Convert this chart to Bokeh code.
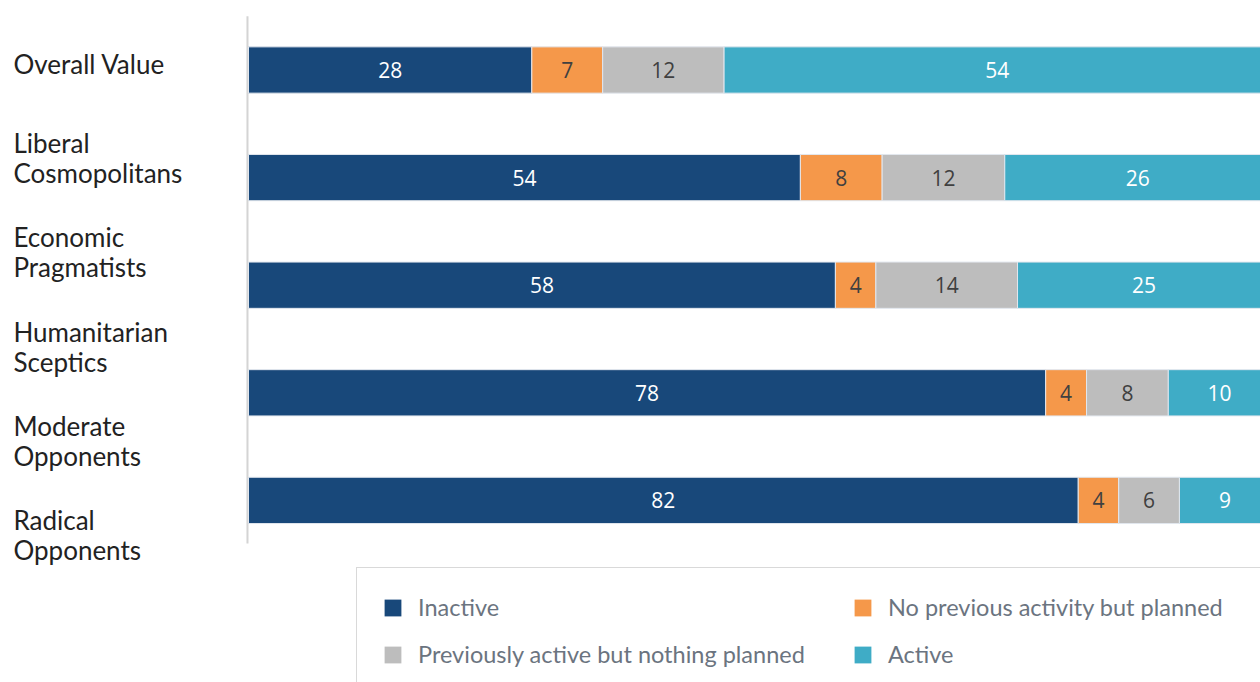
from bokeh.plotting import figure
from bokeh.models import Range1d, Legend, LegendItem, ColumnDataSource
from bokeh.core.properties import value
from bokeh.embed import file_html
from bokeh.resources import INLINE
import numpy as np

# ---------------- data ----------------
category_labels = ["Overall Value", "Liberal\nCosmopolitans", "Economic\nPragmatists",
                   "Humanitarian\nSceptics", "Moderate\nOpponents", "Radical\nOpponents"]
series_names = ["Inactive", "No previous activity but planned",
                "Previously active but nothing planned", "Active"]
inactive = [28, 54, 58, 78, 82]
planned = [7, 8, 4, 4, 4]
previously = [12, 12, 14, 8, 6]
active = [54, 26, 25, 10, 9]

# ---------------- style ----------------
colors = ["#18487A", "#F5984A", "#BDBDBD", "#3FACC6"]
text_colors = ["#FFFFFF", "#404040", "#404040", "#FFFFFF"]

W, H = 1260, 682
PX = 10.22          # pixels per percent
X0 = 248            # frame pixel of x = 0
ROW = 107.6         # pixels per bar row
ROW0 = 69.5         # frame pixel of first bar centre

p = figure(width=W, height=H, output_backend="svg", toolbar_location=None,
           x_range=Range1d(-X0 / PX, (W - X0) / PX),
           y_range=Range1d((H - ROW0) / ROW, -ROW0 / ROW),
           min_border=0)
p.xaxis.visible = False
p.yaxis.visible = False
p.grid.visible = False
p.outline_line_color = None
p.background_fill_color = "white"
p.border_fill_color = "white"

series = [inactive, planned, previously, active]
vals = np.array(series, dtype=float)
totals = vals.sum(axis=0)
shares = vals / totals * 100.0
rows = np.arange(len(inactive))

# vertical axis line
p.segment(x0=[-0.1], y0=[-0.5], x1=[-0.1], y1=[4.4], line_color="#D4D4D4", line_width=2)

left = np.zeros(len(rows))
renderers = []
for k in range(4):
    right = left + shares[k]
    src = ColumnDataSource(dict(y=rows, left=left, right=right,
                                mid=(left + right) / 2,
                                lab=[str(v) for v in series[k]]))
    r = p.hbar(y="y", left="left", right="right", height=0.43, source=src,
               fill_color=colors[k], line_color="#E2E7EE", line_width=1)
    renderers.append(r)
    p.text(x="mid", y="y", text="lab", source=src, text_align="center",
           text_baseline="middle", text_font=value("Open Sans"),
           text_font_size="21px", text_color=text_colors[k])
    left = right

# category labels (evenly spaced column on the left)
label_y = [-0.06 + 0.877 * i for i in range(len(category_labels))]
p.text(x=[-23.0] * len(category_labels), y=label_y, text=category_labels,
       text_align="left", text_baseline="middle", text_font=value("Lato"),
       text_font_size="26px", text_color="#222222", text_line_height=0.93)

# legend swatches (same colours as the bars, no outline)
sw = []
for k in range(4):
    sw.append(p.rect(x=[np.nan], y=[np.nan], width=1, height=1,
                     fill_color=colors[k], line_color=None))

legend = Legend(items=[LegendItem(label=series_names[0], renderers=[sw[0]]),
                       LegendItem(label=series_names[1], renderers=[sw[1]]),
                       LegendItem(label=series_names[2], renderers=[sw[2]]),
                       LegendItem(label=series_names[3], renderers=[sw[3]])],
                ncols=2, orientation="horizontal", location=(356, -12))
legend.glyph_width = 21
legend.glyph_height = 21
legend.label_standoff = 15
legend.padding = 25
legend.spacing = 19
legend.label_width = 415
legend.label_text_font = "Lato"
legend.label_text_font_size = "23.5px"
legend.label_text_color = "#6B7480"
legend.label_height = 26
legend.border_line_color = "#B4B4B4"
legend.border_line_width = 1.5
legend.background_fill_color = "white"
legend.background_fill_alpha = 1
legend.margin = 0
p.add_layout(legend, "center")

open("out.html", "w").write(file_html(p, INLINE))
